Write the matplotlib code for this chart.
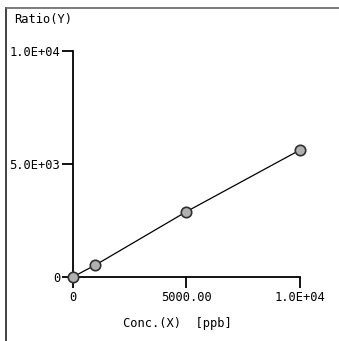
import matplotlib
matplotlib.use("Agg")
import matplotlib.pyplot as plt
from matplotlib.lines import Line2D

# calibration data
conc = [0, 1000, 5000, 10000]
ratio = [0, 530, 2890, 5620]
xticks = [0, 5000, 10000]
xlabels = ["0", "5000.00", "1.0E+04"]
yticks = [0, 5000, 10000]
ylabels = ["0", "5.0E+03", "1.0E+04"]

plt.rcParams['font.family'] = ['DejaVu Sans Mono']
fs = 8.7

fig = plt.figure(figsize=(3.39, 3.41), dpi=100)
ax = fig.add_axes([0.2145, 0.1877, 0.6705, 0.6628])

ax.plot(conc, ratio, color='black', lw=0.9, marker='o', ms=7.5,
        mfc='#b0b0b0', mec='#303030', mew=1.2, clip_on=False, zorder=3)

ax.set_xlim(0, 10000)
ax.set_ylim(0, 10000)
ax.set_xticks(xticks)
ax.set_xticklabels(xlabels, fontsize=fs)
ax.set_yticks(yticks)
ax.set_yticklabels(ylabels, fontsize=fs)
ax.tick_params(direction='out', length=8, width=1.3, pad=1, colors='black')
ax.tick_params(axis='x', pad=2)
for s in ['top', 'right']:
    ax.spines[s].set_visible(False)
for s in ['left', 'bottom']:
    ax.spines[s].set_linewidth(1.3)
ax.patch.set_visible(False)

fig.text(14/339, 1 - 20/341, "Ratio(Y)", fontsize=fs, va='center', ha='left')
fig.text(123/339, 1 - 324/341, "Conc.(X)  [ppb]", fontsize=fs, va='center', ha='left')

# outer frame (left and top edges)
fig.add_artist(Line2D([6/339, 6/339], [1 - 8/341, 0], transform=fig.transFigure,
                      color='#222222', lw=1.2))
fig.add_artist(Line2D([6/339, 1], [1 - 8/341, 1 - 8/341], transform=fig.transFigure,
                      color='#666666', lw=1.2))

fig.savefig("out.png", dpi=100)
